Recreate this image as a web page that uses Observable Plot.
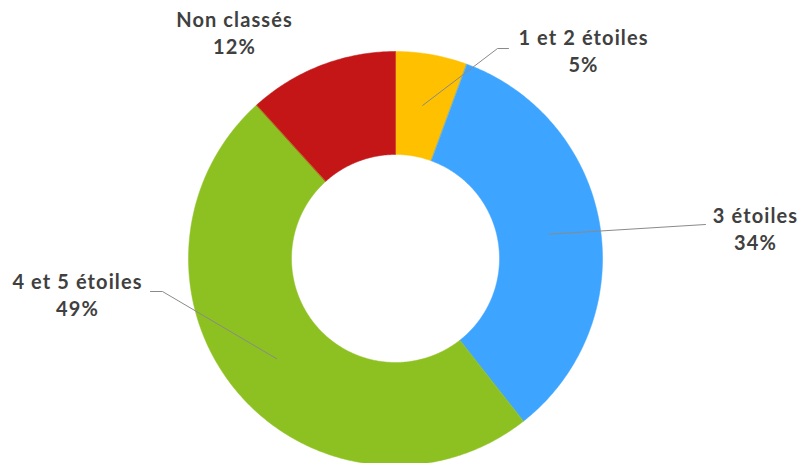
<!DOCTYPE html>
<html>
<head>
<meta charset="utf-8">
<script src="https://cdn.jsdelivr.net/npm/d3@7"></script>
<script src="https://cdn.jsdelivr.net/npm/@observablehq/plot@0.6"></script>
<style>
  html, body { margin: 0; padding: 0; background: #fff; overflow: hidden; }
  #chart svg { display: block; }
  #chart svg text { letter-spacing: 1.1px; }
</style>
</head>
<body>
<div id="chart"></div>
<script>
// ---- Data ----
const categories = ["1 et 2 étoiles", "3 étoiles", "4 et 5 étoiles", "Non classés"];
const values = [5.6, 33.8, 48.9, 11.7];
const percentLabels = ["5%", "34%", "49%", "12%"];
const colors = ["#FFC000", "#3DA4FF", "#8DC122", "#C41616"];

// ---- Layout ----
const W = 800, H = 463;
const cx = 395, cy = 258;
const outerR = 207, innerR = 104;
// label anchor positions (pixels) and leader elbows (pixels)
const labelPos = [[583, 49], [755, 227], [77, 293], [234, 31]];
const leaderElbows = [[[497, 48], [508, 48]], [[705, 224]], [[162, 291], [150, 291]], null];

const toX = px => px - cx;
const toY = py => cy - py;

const pie = d3.pie().sort(null).value(d => d.value);
const table = categories.map((c, i) => ({name: c, value: values[i], label: c + "\n" + percentLabels[i]}));
const arcs = pie(table);

// polygon points for each slice (angles measured clockwise from north)
const slicePts = [];
for (const a of arcs) {
  const n = Math.max(8, Math.ceil((a.endAngle - a.startAngle) / 0.01));
  for (let k = 0; k <= n; k++) {
    const t = a.startAngle + (a.endAngle - a.startAngle) * k / n;
    slicePts.push({name: a.data.name, x: outerR * Math.sin(t), y: outerR * Math.cos(t)});
  }
  for (let k = n; k >= 0; k--) {
    const t = a.startAngle + (a.endAngle - a.startAngle) * k / n;
    slicePts.push({name: a.data.name, x: innerR * Math.sin(t), y: innerR * Math.cos(t)});
  }
}

// leader lines
const leaderPts = [];
arcs.forEach((a, i) => {
  if (!leaderElbows[i]) return;
  const m = (a.startAngle + a.endAngle) / 2;
  const r = (innerR + outerR) / 2;
  leaderPts.push({name: a.data.name, x: r * Math.sin(m), y: r * Math.cos(m)});
  for (const [px, py] of leaderElbows[i]) leaderPts.push({name: a.data.name, x: toX(px), y: toY(py)});
});

const labels = arcs.map((a, i) => ({text: a.data.label, x: toX(labelPos[i][0]), y: toY(labelPos[i][1])}));

const chart = Plot.plot({
  width: W,
  height: H,
  margin: 0,
  x: {domain: [toX(0), toX(W)], range: [0, W], axis: null},
  y: {domain: [toY(H), toY(0)], range: [H, 0], axis: null},
  color: {domain: categories, range: colors},
  style: {background: "#fff", overflow: "hidden"},
  marks: [
    Plot.line(slicePts, {x: "x", y: "y", z: "name", fill: "name", stroke: "name", strokeWidth: 0.5, curve: "linear-closed"}),
    Plot.line(leaderPts, {x: "x", y: "y", z: "name", stroke: "#8a8a8a", strokeWidth: 1}),
    Plot.text(labels, {x: "x", y: "y", text: "text", fill: "#404040", fontSize: 20, fontWeight: "bold", fontFamily: "Lato", lineHeight: 1.35, textAnchor: "middle", lineAnchor: "middle"})
  ]
});
document.getElementById("chart").appendChild(chart);
</script>
</body>
</html>
